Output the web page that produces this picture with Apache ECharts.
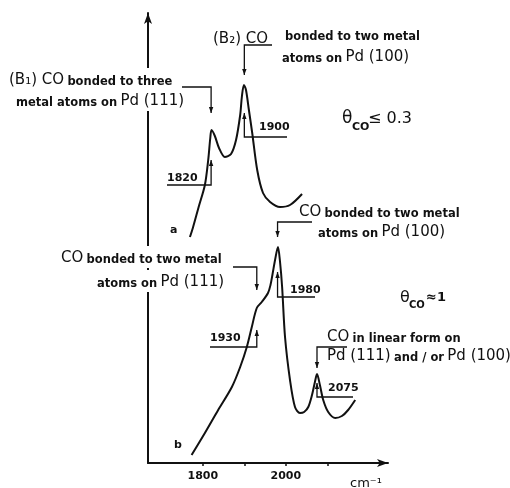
<!DOCTYPE html>
<html><head><meta charset="utf-8">
<script src="https://cdn.jsdelivr.net/npm/echarts@6/dist/echarts.min.js"></script>
<style>html,body{margin:0;padding:0;background:#fff}#c{width:510px;height:488px}</style>
</head><body><div id="c"></div>
<script>
// Spectrum a (theta_CO <= 0.3)
const wavenumberA = [1769,1776,1790,1805,1813,1818,1821,1829,1839,1853,1868,1880,1890,1894,1899,1904,1911,1919,1931,1945,1962,1986,2010,2039];
const absorbA     = [226,235,256,278,303,325,333,327,315,306,309,323,348,366,378,373,353,330,293,270,261,256,258,269];
// Spectrum b (theta_CO ~ 1)
const wavenumberB = [1773,1805,1837,1870,1890,1906,1918,1930,1942,1957,1963,1968,1974,1981,1986,1991,1998,2010,2022,2034,2044,2054,2063,2070,2075,2082,2090,2102,2119,2135,2150,2167];
const absorbB     = [8,30,53,76,96,116,136,155,161,170,178,189,203,216,201,176,126,83,56,50,51,56,68,81,89,78,63,51,45,47,53,63];
// Peak positions (cm-1)
const peaksA = [1820, 1900];
const peaksB = [1930, 1980, 2075];
const tickValues = [1800, 1900, 2000, 2100];
const tickLabels = [1800, 2000];

const F = 'DejaVu Sans';
const INK = '#111';
const chart = echarts.init(document.getElementById('c'), null, {renderer:'canvas'});
const zip = (xs, ys) => xs.map((x,i)=>[x, ys[i]]);

chart.setOption({
  animation:false,
  backgroundColor:'#fff',
  grid:{left:148, right:122, top:13, bottom:25},
  xAxis:{type:'value', min:1668, max:2246,
    axisLine:{show:true, lineStyle:{color:INK, width:2}, symbol:['none','arrow'], symbolSize:[6,11]},
    axisTick:{show:true, length:3, inside:false, customValues:tickValues, lineStyle:{color:INK, width:1.5}},
    axisLabel:{show:true, customValues:tickLabels, formatter:v=>String(v), color:INK, fontFamily:F, fontSize:11, fontWeight:'bold', margin:8},
    splitLine:{show:false}},
  yAxis:{type:'value', min:0, max:450,
    axisLine:{show:true, onZero:false, lineStyle:{color:INK, width:2}, symbol:['none','arrow'], symbolSize:[6,11]},
    axisTick:{show:false}, axisLabel:{show:false}, splitLine:{show:false}},
  series:[
    {type:'line', data:zip(wavenumberA, absorbA), smooth:0.3, showSymbol:false, lineStyle:{color:INK, width:2}},
    {type:'line', data:zip(wavenumberB, absorbB), smooth:0.3, showSymbol:false, lineStyle:{color:INK, width:2}}
  ]
});

const px = w => chart.convertToPixel({xAxisIndex:0}, w);
const els = [];
const big = {fontSize:15, fontFamily:F, fill:INK, verticalAlign:'bottom', lineHeight:18};
const sml = {fontSize:11.5, fontFamily:F, fontWeight:'bold', fill:INK, verticalAlign:'bottom', lineHeight:16};
function rtext(x, y, text, bg) {
  els.push({type:'text', x:x, y:y, z:100, style:{text:text, rich:{b:big, s:sml}, verticalAlign:'middle', align:'left',
    backgroundColor: bg ? '#fff' : null, padding: bg ? [2,3] : 0}});
}
function ptext(x, y, text, size, weight) {
  els.push({type:'text', x:x, y:y, z:100, style:{text:text, fill:INK, font:(weight||'normal')+' '+size+'px "'+F+'"', verticalAlign:'middle', align:'left'}});
}
// bracket: horizontal from hx to arrow x at yh, then vertical to yEnd with arrowhead
function bracket(hx, ax, yh, yEnd) {
  els.push({type:'polyline', z:100, shape:{points:[[hx,yh],[ax,yh],[ax,yEnd]]}, style:{stroke:INK, lineWidth:1.3, fill:null}});
  const d = yEnd > yh ? -6 : 6;
  els.push({type:'polygon', z:100, shape:{points:[[ax-2.2,yEnd+d],[ax+2.2,yEnd+d],[ax,yEnd]]}, style:{fill:INK}});
}

// Spectrum a annotations
const x1820 = px(peaksA[0]), x1900 = px(peaksA[1]);
rtext(6, 79, '{b|(B₁) CO} {s|bonded to three}', true);
rtext(13, 100, '{s|metal atoms on} {b|Pd (111)}', true);
bracket(182, x1820, 87, 113);
ptext(167, 178, String(peaksA[0]), 11, 'bold');
bracket(167, x1820, 185, 160);
rtext(213, 38, '{b|(B₂) CO}');
ptext(285, 37, 'bonded to two metal', 11.5, 'bold');
rtext(282, 56, '{s|atoms on} {b|Pd (100)}');
bracket(272, x1900, 45, 75);
ptext(259, 127, String(peaksA[1]), 11, 'bold');
bracket(287, x1900, 137, 113);
ptext(342, 119, 'θ', 17);
ptext(352, 127, 'CO', 11, 'bold');
ptext(368, 119, '≤ 0.3', 16);
ptext(170, 230, 'a', 11, 'bold');

// Spectrum b annotations
const x1930 = px(peaksB[0]), x1980 = px(peaksB[1]), x2075 = px(peaksB[2]);
rtext(58, 257, '{b|CO} {s|bonded to two metal}', true);
rtext(94, 281, '{s|atoms on} {b|Pd (111)}', true);
bracket(233, x1930, 267, 290);
ptext(210, 338, String(peaksB[0]), 11, 'bold');
bracket(210, x1930, 347, 330);
rtext(299, 211, '{b|CO} {s|bonded to two metal}');
rtext(318, 231, '{s|atoms on} {b|Pd (100)}');
bracket(312, x1980, 222, 237);
ptext(290, 290, String(peaksB[1]), 11, 'bold');
bracket(315, x1980, 297, 272);
ptext(400, 298, 'θ', 16);
ptext(409, 305, 'CO', 10, 'bold');
ptext(426, 298, '≈1', 13, 'bold');
rtext(327, 336, '{b|CO} {s|in linear form on}');
rtext(327, 355, '{b|Pd (111)} {s|and / or} {b|Pd (100)}');
bracket(347, x2075, 347, 368);
ptext(328, 388, String(peaksB[2]), 11, 'bold');
bracket(353, x2075, 397, 383);
ptext(174, 445, 'b', 11, 'bold');
ptext(350, 484, 'cm⁻¹', 13);

chart.setOption({graphic:{elements:els}});
</script></body></html>
